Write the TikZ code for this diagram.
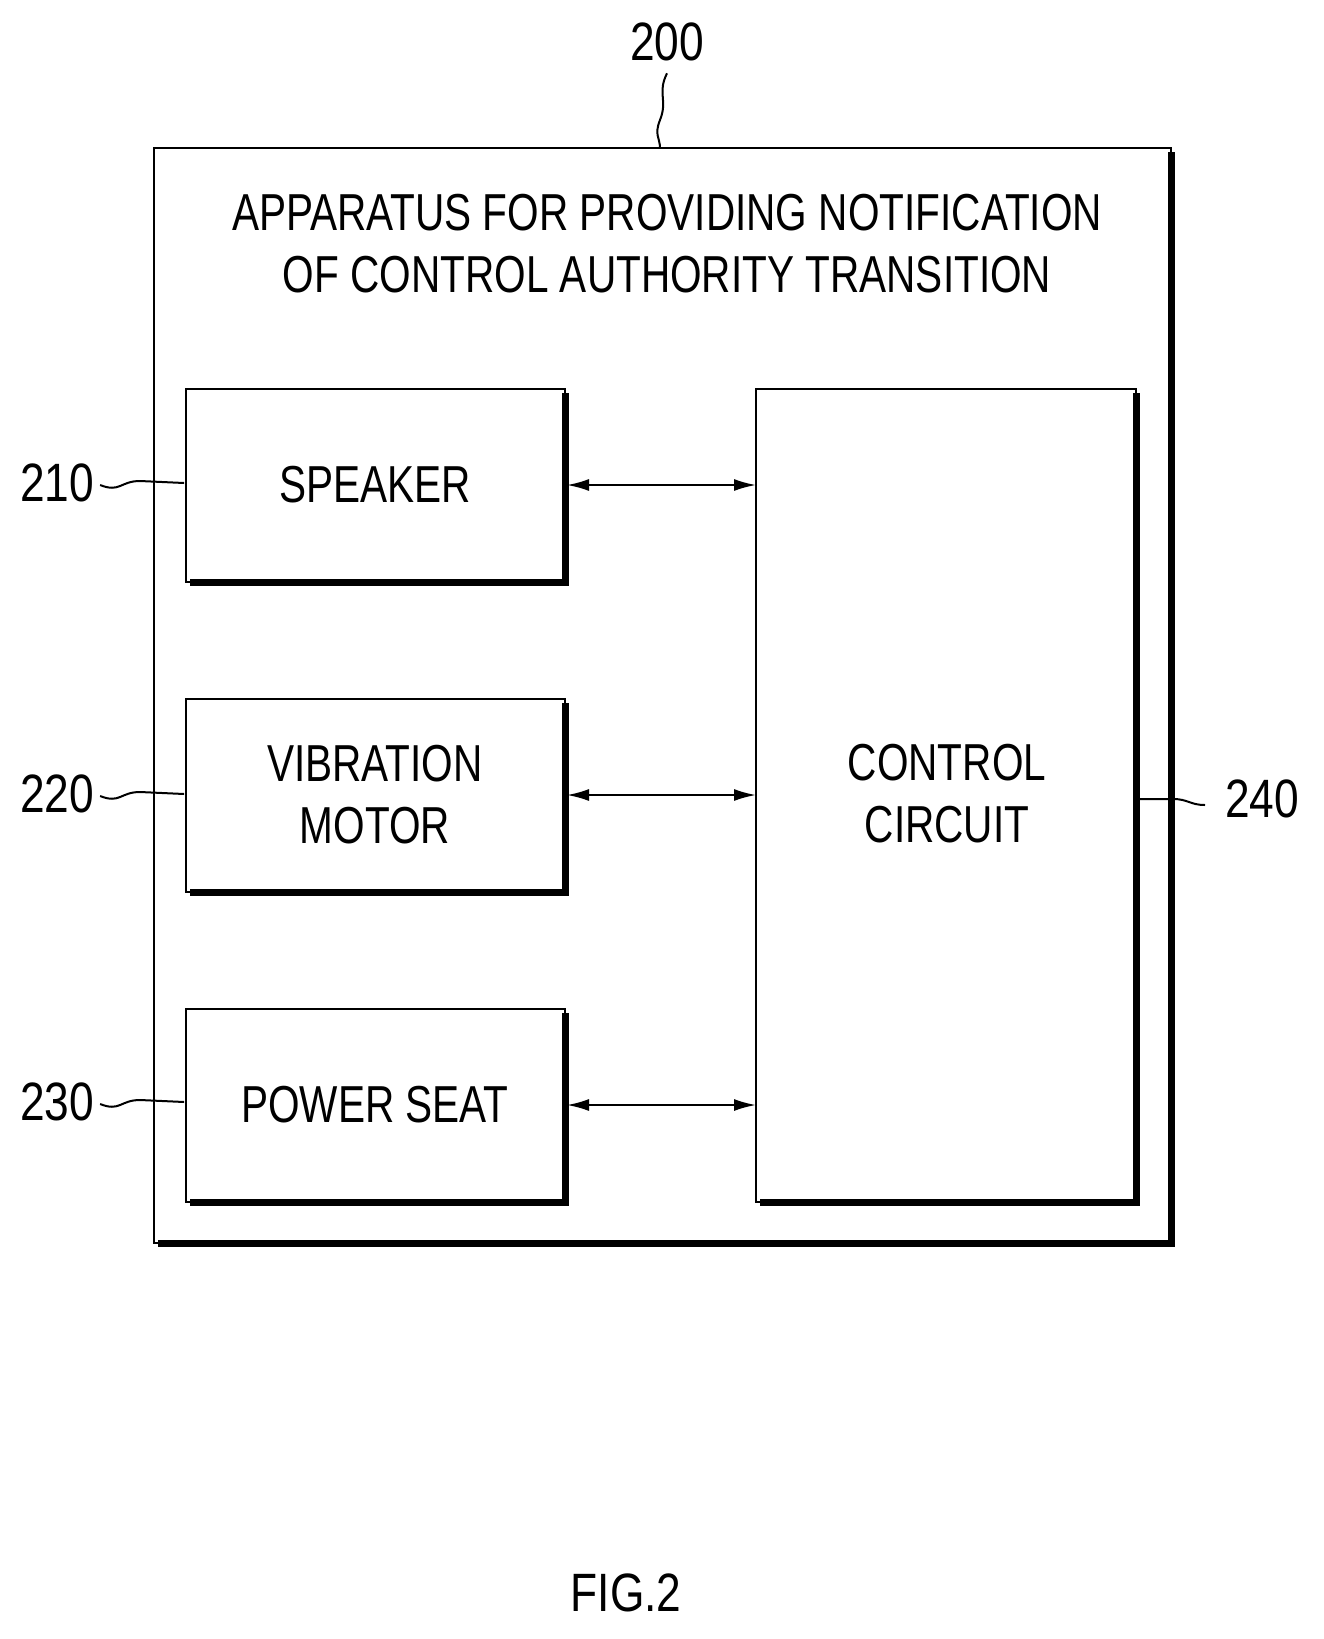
\documentclass[tikz,border=0pt]{standalone}
\usepackage{fontspec}
\setmainfont{Liberation Sans}
\begin{document}
\begin{tikzpicture}[x=1pt,y=-1pt,
 lbl/.style={font=\fontsize{54}{60}\selectfont,xscale=0.82,inner sep=0},
 txt/.style={font=\fontsize{52}{62}\selectfont,xscale=0.78,align=center,inner sep=0},
 blk/.style={draw,line width=2.5pt},
 arr/.style={line width=2pt,<->,>={Latex[length=22pt,width=12pt]}}]
\usetikzlibrary{arrows.meta}
\useasboundingbox (0,0) rectangle (1323,1639);
% outer
\draw[blk] (154,148) rectangle (1171,1243);
\draw[line width=7pt] (1171,152) -- (1171,1243) -- (158,1243);
\node[txt] (title) at (667,244) {APPARATUS FOR PROVIDING NOTIFICATION\\OF CONTROL AUTHORITY TRANSITION};
% blocks
\foreach \n/\y/\t in {spk/389/SPEAKER,vib/699/{VIBRATION\\MOTOR},pow/1009/POWER SEAT}{
 \draw[blk] (186,\y) rectangle (565,\y+193);
 \draw[line width=7pt] (565,\y+4) -- (565,\y+193) -- (190,\y+193);
 \node[txt] (\n) at (375,\y+96) {\t};
 \coordinate (\n L) at (186,\y+96);
 \coordinate (\n R) at (567,\y+96);
}
\draw[blk] (756,389) rectangle (1136,1202);
\draw[line width=7pt] (1136,393) -- (1136,1202) -- (760,1202);
\node[txt] (ctl) at (947,794) {CONTROL\\CIRCUIT};
\coordinate (ctlL) at (756,0);
\coordinate (ctlR) at (1139,799);
\foreach \n in {spk,vib,pow}{\draw[arr] (\n R) -- (\n R -| ctlL);}
% labels
\node[lbl] (l200) at (667,42) {200};
\node[lbl] (l210) at (57,483) {210};
\node[lbl] (l220) at (57,794) {220};
\node[lbl] (l230) at (57,1102) {230};
\node[lbl] (l240) at (1262,799) {240};
\node[lbl,font=\fontsize{54}{60}\selectfont] (fig) at (626,1593) {FIG.2};
\draw[line width=2pt] (l200.south) ++(0,12) .. controls +(-10,20) and +(8,-20) .. (660,120) .. controls +(-6,15) and +(0,-10) .. (660,148);
\foreach \n in {210,220,230}{\draw[line width=2pt] (l\n.east) ++(6,2) .. controls +(20,8) and +(-20,0) .. +(40,-4) -- +(84,-2);}
\draw[line width=2pt] (ctlR) -- ++(34,0) .. controls +(15,0) and +(-15,0) .. ++(32,6);
\end{tikzpicture}
\end{document}
